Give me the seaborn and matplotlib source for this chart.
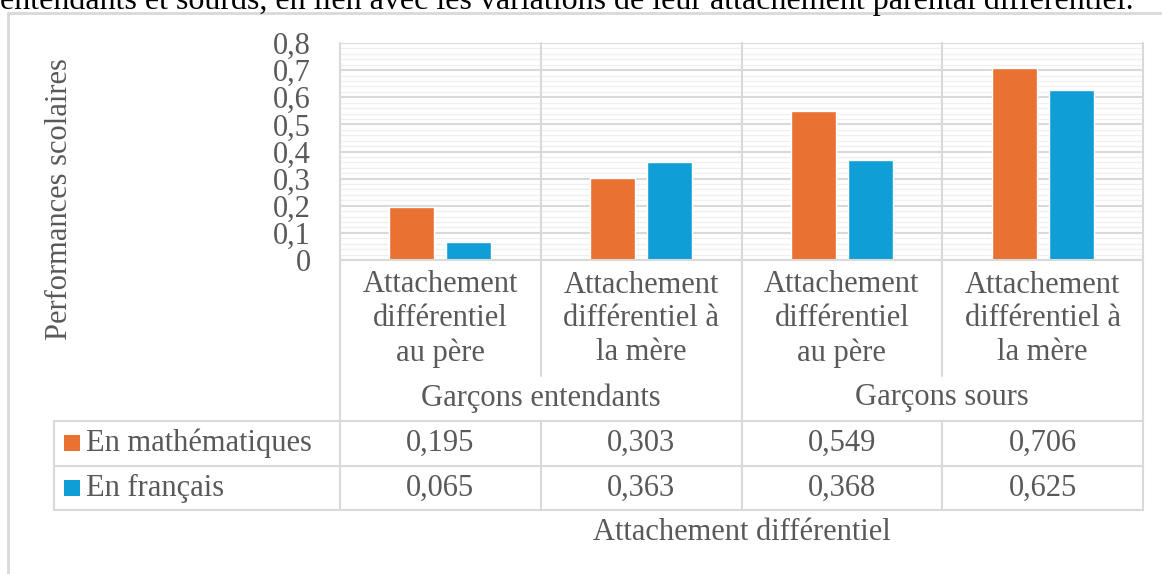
import matplotlib.pyplot as plt
import matplotlib.transforms as mtransforms
from matplotlib.ticker import MultipleLocator, FuncFormatter
import seaborn as sns
import pandas as pd

# data
categories = ["Attachement\ndifférentiel\nau père", "Attachement\ndifférentiel à\nla mère",
              "Attachement\ndifférentiel\nau père", "Attachement\ndifférentiel à\nla mère"]
groups = ["Garçons entendants", "Garçons sours"]
series = ["En mathématiques", "En français"]
maths = [0.195, 0.303, 0.549, 0.706]
francais = [0.065, 0.363, 0.368, 0.625]
colors = ["#E97132", "#0F9ED5"]

df = pd.DataFrame({
    "cat": list(range(len(categories))) * 2,
    "val": maths + francais,
    "serie": [series[0]] * 4 + [series[1]] * 4,
})

sns.set_style("white")
plt.rcParams["font.family"] = ["Liberation Serif", "DejaVu Serif"]
txt = "#595959"
grid = "#d9d9d9"
fs = 22

W, H = 1162, 574
fig = plt.figure(figsize=(W / 100, H / 100), dpi=100)
ax = fig.add_axes([340 / W, 1 - 260 / H, 803 / W, 217 / H])

sns.barplot(data=df, x="cat", y="val", hue="serie", palette=colors, width=0.567, gap=0.21,
            saturation=1, legend=False, ax=ax)

ax.set_xlim(-0.5, 3.5)
ax.set_ylim(0, 0.8)
ax.yaxis.set_major_locator(MultipleLocator(0.1))
ax.yaxis.set_minor_locator(MultipleLocator(0.02))
ax.yaxis.set_major_formatter(FuncFormatter(lambda v, p: "0" if abs(v) < 1e-9 else f"{v:.1f}".replace(".", ",")))
ax.grid(which="minor", axis="y", color="#f0f0f0", lw=1.0)
ax.grid(which="major", axis="y", color=grid, lw=1.5)
ax.set_axisbelow(True)
for s in ax.spines.values():
    s.set_visible(False)
ax.tick_params(axis="y", which="both", length=0, pad=21, labelsize=fs, labelcolor=txt)
ax.set_xticks([])
ax.set_xlabel("")
ax.set_ylabel("")

# table below the plot: x in data units, y in pixels from the top
tr = mtransforms.blended_transform_factory(ax.transData, fig.transFigure)


def fy(y):
    return 1 - y / H


def vline(x, y0, y1):
    fig.add_artist(plt.Line2D([x, x], [fy(y0), fy(y1)], transform=tr, color=grid, lw=1.5))


def hline_px(x0, x1, y):
    fig.add_artist(plt.Line2D([x0 / W, x1 / W], [fy(y), fy(y)], transform=fig.transFigure,
                              color=grid, lw=1.5))


x_left = ax.transData.transform((-0.5, 0))[0]
x_right = ax.transData.transform((3.5, 0))[0]

for x in [-0.5, 1.5, 3.5]:
    vline(x, 43, 510)
for x in [0.5, 2.5]:
    vline(x, 43, 376)
    vline(x, 421, 510)
hline_px(x_left, x_right, 260)
for y in [421, 466, 510]:
    hline_px(54, x_right, y)
fig.add_artist(plt.Line2D([54 / W, 54 / W], [fy(421), fy(510)], transform=fig.transFigure, color=grid, lw=1.5))

for i, c in enumerate(categories):
    fig.text(i, fy(319), c, transform=tr, ha="center", va="center", fontsize=fs, color=txt,
             linespacing=1.22)
for j, g in enumerate(groups):
    fig.text(0.5 + 2 * j, fy(398), g, transform=tr, ha="center", va="center", fontsize=fs, color=txt)

for row, (name, vals, col) in enumerate(zip(series, [maths, francais], colors)):
    yc = 443 + 45 * row
    fig.add_artist(plt.Rectangle((64 / W, fy(yc + 8)), 16 / W, 16 / H, transform=fig.transFigure,
                                 color=col, lw=0))
    fig.text(86 / W, fy(yc), name, ha="left", va="center", fontsize=fs, color=txt)
    for i, v in enumerate(vals):
        fig.text(i, fy(yc), f"{v:.3f}".replace(".", ","), transform=tr, ha="center", va="center",
                 fontsize=fs, color=txt)

fig.text(1.5, fy(532), "Attachement différentiel", transform=tr, ha="center", va="center",
         fontsize=fs, color=txt)
fig.text(60 / W, fy(199), "Performances scolaires", rotation=90, ha="center", va="center",
         fontsize=fs, color=txt)

# outer chart frame and the cut caption line above it
fig.add_artist(plt.Line2D([8 / W, 8 / W], [fy(13), 0], transform=fig.transFigure, color=grid, lw=2))
fig.add_artist(plt.Line2D([8 / W, 1], [fy(13), fy(13)], transform=fig.transFigure, color=grid, lw=2))
fig.text(0, fy(9), "entendants et sourds, en lien avec les variations de leur attachement parental différentiel.",
         ha="left", va="baseline", fontsize=23, color="black")

fig.savefig("out.png", dpi=100)
